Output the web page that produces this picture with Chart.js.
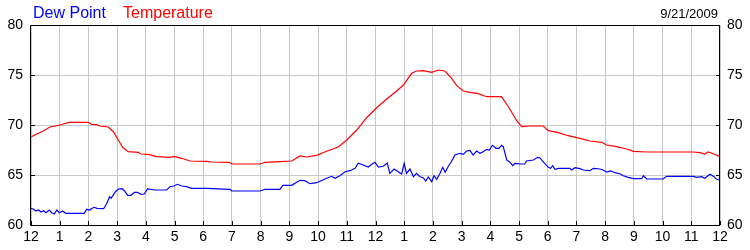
<!DOCTYPE html>
<html>
<head>
<meta charset="utf-8">
<script src="https://cdn.jsdelivr.net/npm/chart.js@4/dist/chart.umd.min.js"></script>
<style>
html,body{margin:0;padding:0;background:#fff;}
canvas{display:block;}
</style>
</head>
<body>
<canvas id="c" width="750" height="250"></canvas>
<script>
const hourLabels = ['12','1','2','3','4','5','6','7','8','9','10','11','12','1','2','3','4','5','6','7','8','9','10','11','12'];
const yTicks = [60, 65, 70, 75, 80];
const dateLabel = '9/21/2009';
const seriesNames = ['Dew Point', 'Temperature'];

const tempHours = [0,0.2,0.43,0.66,0.95,1.13,1.33,2.0,2.11,2.29,2.4,2.69,2.87,3.04,3.19,3.39,3.74,3.83,4.09,4.38,4.84,4.98,5.25,5.54,6.12,6.29,6.91,6.99,7.98,8.15,8.67,9.08,9.37,9.6,9.95,10.3,10.7,11.0,11.34,11.69,12.04,12.39,12.74,12.97,13.26,13.43,13.66,13.96,14.19,14.42,14.65,14.83,15.06,15.29,15.58,15.87,16.39,16.63,16.92,17.09,17.38,17.84,18.02,18.37,18.71,19.12,19.47,19.88,20.05,20.4,20.75,20.98,21.45,23.07,23.3,23.47,23.59,23.79,24];
const tempValues = [68.8,69.1,69.4,69.8,69.95,70.1,70.27,70.27,70.07,70.03,69.9,69.8,69.33,68.5,67.77,67.33,67.27,67.1,67.07,66.83,66.77,66.87,66.67,66.4,66.37,66.3,66.27,66.1,66.1,66.27,66.33,66.4,66.9,66.8,66.97,67.37,67.8,68.5,69.47,70.73,71.73,72.6,73.4,74.0,75.17,75.4,75.43,75.27,75.5,75.4,74.67,73.93,73.4,73.27,73.13,72.83,72.83,71.83,70.43,69.83,69.9,69.9,69.43,69.23,68.93,68.67,68.4,68.27,68.0,67.83,67.6,67.37,67.3,67.3,67.23,67.1,67.3,67.1,66.83];

const dewHours = [0,0.09,0.17,0.26,0.35,0.44,0.52,0.64,0.72,0.81,0.9,0.98,1.1,1.21,1.85,1.94,2.05,2.1,2.2,2.3,2.53,2.63,2.74,2.79,2.94,3.05,3.17,3.25,3.37,3.48,3.6,3.71,3.83,3.94,4.06,4.32,4.73,4.84,4.98,5.1,5.25,5.42,5.6,6.12,6.93,6.99,7.98,8.15,8.67,8.77,9.08,9.37,9.54,9.72,9.95,10.24,10.47,10.59,10.76,10.94,11.11,11.29,11.4,11.57,11.75,11.87,11.98,12.1,12.27,12.41,12.5,12.65,12.79,12.91,13.0,13.08,13.2,13.32,13.43,13.55,13.66,13.75,13.84,13.96,14.04,14.13,14.25,14.34,14.43,14.54,14.63,14.77,14.94,15.06,15.17,15.29,15.4,15.52,15.64,15.75,15.87,15.97,16.07,16.2,16.3,16.39,16.45,16.57,16.66,16.78,16.86,17.09,17.2,17.26,17.5,17.65,17.72,17.87,18.02,18.1,18.17,18.25,18.37,18.77,18.83,18.95,19.12,19.24,19.47,19.59,19.82,19.93,20.05,20.19,20.34,20.51,20.63,20.8,20.98,21.27,21.33,21.45,22.02,22.14,23.07,23.19,23.36,23.47,23.65,23.79,23.88,24];
const dewValues = [61.67,61.57,61.4,61.5,61.3,61.43,61.23,61.5,61.23,61.1,61.5,61.23,61.4,61.17,61.17,61.57,61.5,61.63,61.77,61.67,61.63,62.1,62.83,62.67,63.33,63.6,63.63,63.43,62.97,62.97,63.27,63.27,63.07,63.1,63.6,63.5,63.5,63.83,63.9,64.07,63.9,63.83,63.67,63.67,63.57,63.4,63.4,63.57,63.57,63.97,63.97,64.47,64.43,64.13,64.23,64.6,64.87,64.67,64.93,65.33,65.43,65.67,66.17,66.0,65.8,66.07,66.27,65.8,65.87,66.2,65.17,65.6,65.33,65.1,66.17,65.17,65.6,64.83,65.17,64.83,64.73,64.4,64.8,64.33,64.93,64.57,65.17,65.77,65.27,65.9,66.27,67.0,67.17,67.07,67.4,67.47,67.0,67.4,67.17,67.33,67.57,67.5,67.97,67.67,67.67,67.97,67.83,66.5,66.33,65.93,66.17,66.1,66.1,66.4,66.5,66.77,66.73,66.23,65.77,65.67,65.93,65.57,65.67,65.67,65.5,65.73,65.63,65.5,65.43,65.67,65.6,65.5,65.3,65.4,65.23,65.13,64.93,64.77,64.63,64.63,64.93,64.6,64.6,64.87,64.87,64.77,64.83,64.67,65.07,64.83,64.57,64.5];

const toPoints = (xs, ys) => xs.map((x, i) => ({x: x, y: ys[i]}));

const FONT = 'Liberation Sans, Arial, sans-serif';

const framePlugin = {
  id: 'frame',
  afterDraw(chart) {
    const ctx = chart.ctx;
    const a = chart.chartArea;
    const xs = chart.scales.x, yl = chart.scales.y, yr = chart.scales.y2;
    ctx.save();
    ctx.strokeStyle = '#000';
    ctx.lineWidth = 1;
    ctx.beginPath();
    ctx.rect(Math.round(a.left) - 0.5, Math.round(a.top) + 0.5, Math.round(a.right - a.left), Math.round(a.bottom - a.top));
    ctx.stroke();
    ctx.beginPath();
    xs.ticks.forEach(t => {
      const px = Math.round(xs.getPixelForValue(t.value)) + 0.5;
      ctx.moveTo(px, a.bottom);
      ctx.lineTo(px, a.bottom - 4);
    });
    yl.ticks.forEach(t => {
      const py = Math.round(yl.getPixelForValue(t.value)) + 0.5;
      ctx.moveTo(a.left, py);
      ctx.lineTo(a.left + 4, py);
      ctx.moveTo(a.right, py);
      ctx.lineTo(a.right - 4, py);
    });
    ctx.stroke();
    // legend-like title texts
    ctx.font = '16px ' + FONT;
    ctx.textBaseline = 'alphabetic';
    ctx.textAlign = 'left';
    ctx.fillStyle = '#0000ff';
    ctx.fillText(seriesNames[0], 33, 18);
    ctx.fillStyle = '#ff0000';
    ctx.fillText(seriesNames[1], 123, 18);
    ctx.font = '13px ' + FONT;
    ctx.fillStyle = '#000';
    ctx.textAlign = 'right';
    ctx.fillText(dateLabel, 718, 18);
    ctx.restore();
  }
};

new Chart(document.getElementById('c'), {
  type: 'line',
  data: {
    datasets: [
      {label: seriesNames[1], data: toPoints(tempHours, tempValues), borderColor: '#ff0000', borderWidth: 1.2, pointRadius: 0, tension: 0, fill: false},
      {label: seriesNames[0], data: toPoints(dewHours, dewValues), borderColor: '#0000ff', borderWidth: 1.2, pointRadius: 0, tension: 0, fill: false}
    ]
  },
  options: {
    responsive: false,
    animation: false,
    devicePixelRatio: 1,
    layout: {padding: {top: 25, left: 0, right: 0, bottom: 0}},
    plugins: {legend: {display: false}, tooltip: {enabled: false}, title: {display: false}},
    scales: {
      x: {
        type: 'linear', min: 0, max: 24,
        afterFit(s) { s.height = 25; },
        afterBuildTicks(s) { s.ticks = hourLabels.map((_, i) => ({value: i})); },
        grid: {color: '#c8c8c8', drawTicks: false, lineWidth: 1},
        border: {display: false},
        ticks: {autoSkip: false, maxRotation: 0, padding: 4, color: '#000', font: {family: FONT, size: 14},
          callback: v => hourLabels[v]}
      },
      y: {
        position: 'left', min: 60, max: 80,
        afterFit(s) { s.width = 31; },
        afterBuildTicks(s) { s.ticks = yTicks.map(v => ({value: v})); },
        grid: {color: '#c8c8c8', drawTicks: false, lineWidth: 1},
        border: {display: false},
        ticks: {padding: 8, color: '#000', font: {family: FONT, size: 14}}
      },
      y2: {
        position: 'right', min: 60, max: 80,
        afterFit(s) { s.width = 30; },
        afterBuildTicks(s) { s.ticks = yTicks.map(v => ({value: v})); },
        grid: {display: false, drawTicks: false},
        border: {display: false},
        ticks: {padding: 7, color: '#000', font: {family: FONT, size: 14}}
      }
    }
  },
  plugins: [framePlugin]
});
</script>
</body>
</html>
